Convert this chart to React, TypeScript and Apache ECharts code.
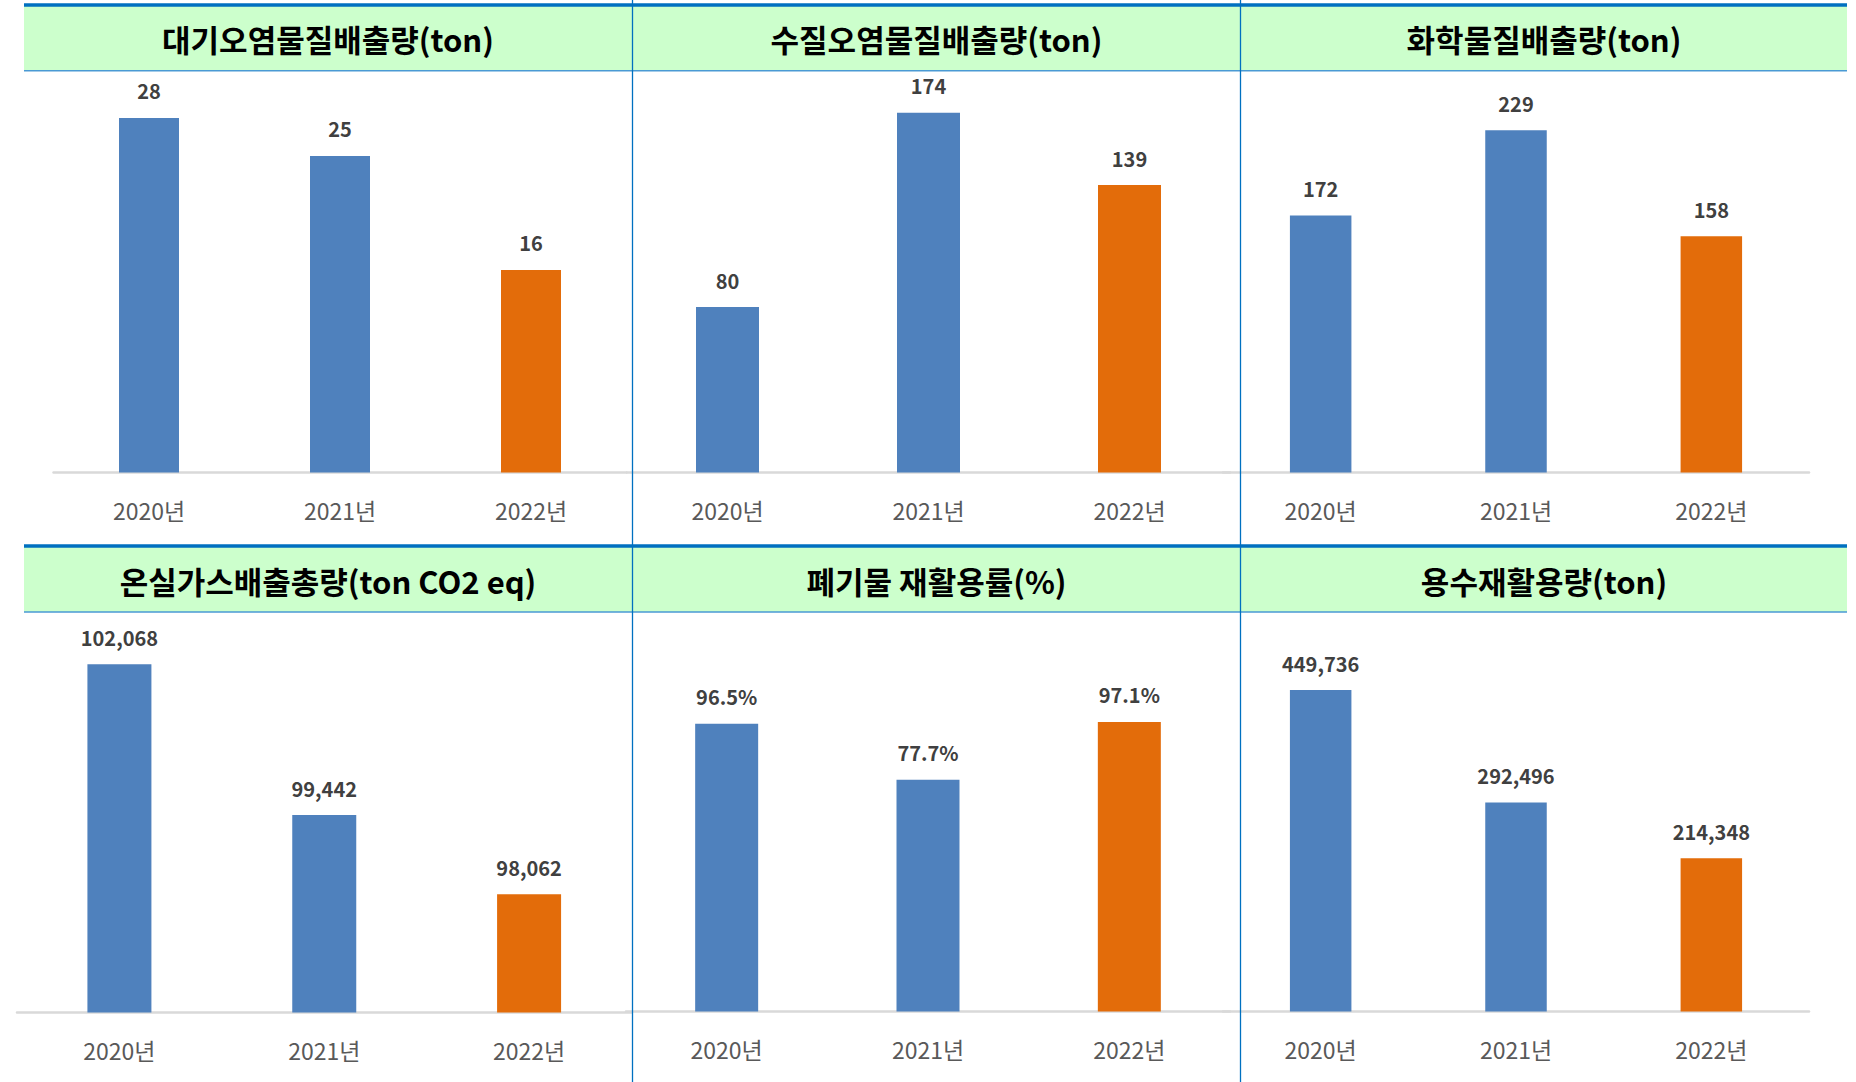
import React, { useEffect, useRef } from "react";
import * as echarts from "echarts";

const years = ["2020년", "2021년", "2022년"];
const airEmission = [28, 25, 16];
const waterEmission = [80, 174, 139];
const chemicalEmission = [172, 229, 158];
const ghgEmission = [102068, 99442, 98062];
const wasteRecycling = [96.5, 77.7, 97.1];
const waterReuse = [449736, 292496, 214348];
const panelTitles = [
  "대기오염물질배출량(ton)",
  "수질오염물질배출량(ton)",
  "화학물질배출량(ton)",
  "온실가스배출총량(ton CO2 eq)",
  "폐기물 재활용률(%)",
  "용수재활용량(ton)",
];

const BLUE = "#4F81BD";
const ORANGE = "#E36C0A";
const FONT = "'Noto Sans CJK KR', 'Noto Sans', sans-serif";

const panels = [
  { data: airEmission, left: 53.5, width: 573, top: 80, height: 392.5, min: 0, max: 31.0, bar: 60, pct: false },
  { data: waterEmission, left: 627, width: 603, top: 80, height: 392.5, min: 0, max: 189.8, bar: 63, pct: false },
  { data: chemicalEmission, left: 1223, width: 586, top: 80, height: 392.5, min: 0, max: 262.6, bar: 61.5, pct: false },
  { data: ghgEmission, left: 17, width: 614.5, top: 620, height: 392.5, min: 96000, max: 102841, bar: 64, pct: false },
  { data: wasteRecycling, left: 626, width: 604, top: 620, height: 391.5, min: 0, max: 131.3, bar: 63, pct: true },
  { data: waterReuse, left: 1223, width: 586, top: 620, height: 391.5, min: 0, max: 547700, bar: 61.5, pct: false },
];

export default function App() {
  const ref = useRef<HTMLDivElement>(null);
  useEffect(() => {
    if (!ref.current) return;
    const chart = echarts.init(ref.current, null, { renderer: "svg" });

    const headerBands = [
      { top: 3.5, bottom: 70.7 },
      { top: 544.5, bottom: 612 },
    ];
    const graphics: any[] = [];
    headerBands.forEach((b) => {
      graphics.push({
        type: "rect",
        z: -10,
        shape: { x: 24, y: b.top + 2, width: 1823, height: b.bottom - b.top - 2 },
        style: { fill: "#CCFFCC" },
      });
      graphics.push({
        type: "line",
        z: 50,
        shape: { x1: 24, y1: b.top + 1.5, x2: 1847, y2: b.top + 1.5 },
        style: { stroke: "#0070C0", lineWidth: 3.5 },
      });
      graphics.push({
        type: "line",
        z: 50,
        shape: { x1: 24, y1: b.bottom, x2: 1847, y2: b.bottom },
        style: { stroke: "#4A9AD4", lineWidth: 1.5 },
      });
    });
    [632.5, 1240.5].forEach((x) => {
      graphics.push({
        type: "line",
        z: 60,
        shape: { x1: x, y1: 0, x2: x, y2: 1082 },
        style: { stroke: "#0070C0", lineWidth: 1.3 },
      });
    });
    const titleCenters = [
      [328, 38.5],
      [936.5, 38.5],
      [1544, 38.5],
      [328, 580],
      [936.5, 580],
      [1544, 580],
    ];
    panelTitles.forEach((t, i) => {
      graphics.push({
        type: "text",
        z: 70,
        x: titleCenters[i][0],
        y: titleCenters[i][1],
        style: {
          text: t,
          fill: "#000000",
          font: `bold 31px ${FONT}`,
          align: "center",
          verticalAlign: "middle",
        },
      });
    });

    const grid = panels.map((p) => ({
      left: p.left,
      top: p.top,
      width: p.width,
      height: p.height,
      containLabel: false,
    }));
    const xAxis = panels.map((_, i) => ({
      type: "category",
      gridIndex: i,
      data: years,
      axisTick: { show: false },
      axisLine: { show: true, lineStyle: { color: "#D9D9D9", width: 2.5 } },
      axisLabel: {
        color: "#595959",
        fontSize: 23,
        fontFamily: FONT,
        margin: 26,
      },
    }));
    const yAxis = panels.map((p, i) => ({
      type: "value",
      gridIndex: i,
      min: p.min,
      max: p.max,
      show: false,
      splitLine: { show: false },
    }));
    const series = panels.map((p, i) => ({
      type: "bar",
      xAxisIndex: i,
      yAxisIndex: i,
      data: p.data,
      barWidth: p.bar,
      itemStyle: {
        color: (params: any) => (params.dataIndex === 2 ? ORANGE : BLUE),
      },
      label: {
        show: true,
        position: "top",
        distance: 17,
        color: "#404040",
        fontSize: 20,
        fontWeight: "bold",
        fontFamily: FONT,
        formatter: (params: any) =>
          p.pct
            ? Number(params.value).toFixed(1) + "%"
            : Number(params.value).toLocaleString("en-US"),
      },
    }));

    chart.setOption({
      animation: false,
      backgroundColor: "#FFFFFF",
      grid,
      xAxis,
      yAxis,
      series,
      graphic: graphics,
    });
    return () => chart.dispose();
  }, []);

  return (
    <div
      ref={ref}
      style={{ position: "fixed", left: 0, top: 0, width: 1856, height: 1082, background: "#fff" }}
    />
  );
}
